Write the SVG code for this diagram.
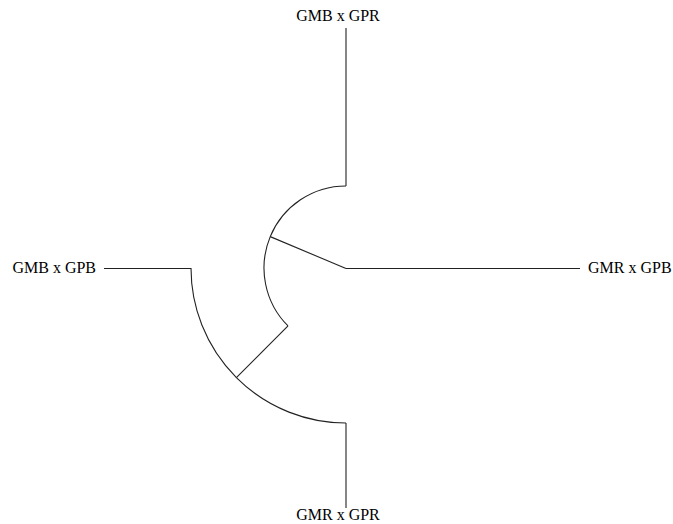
<svg xmlns="http://www.w3.org/2000/svg" width="673" height="524" viewBox="0 0 673 524">
<style>
.e{fill:none;stroke:#222;stroke-width:1.1}
.t{font-family:"Liberation Serif","Times New Roman",serif;font-size:16px;fill:#000}
</style>
<rect width="673" height="524" fill="#fff"/>
<g id="connectors">
<path class="e" d="M346,268.5 L270.24,236.62"/>
<path class="e" d="M346,186 A82,82 0 0 0 288.02,325.98"/>
<path class="e" d="M288.02,325.98 L236.4,377.6"/>
<path class="e" d="M191,268 A155,155 0 0 0 346,423"/>
<path class="e" d="M346,186 L346,28"/>
<path class="e" d="M191,268.5 L104,268.5"/>
<path class="e" d="M346,423 L346,508"/>
<path class="e" d="M346,268.5 L580,268.5"/>
</g>
<g id="n1"><text class="t" x="338" y="21" text-anchor="middle">GMB x GPR</text></g>
<g id="n2"><text class="t" x="96" y="273" text-anchor="end">GMB x GPB</text></g>
<g id="n3"><text class="t" x="588" y="273">GMR x GPB</text></g>
<g id="n4"><text class="t" x="338" y="520" text-anchor="middle">GMR x GPR</text></g>
</svg>
